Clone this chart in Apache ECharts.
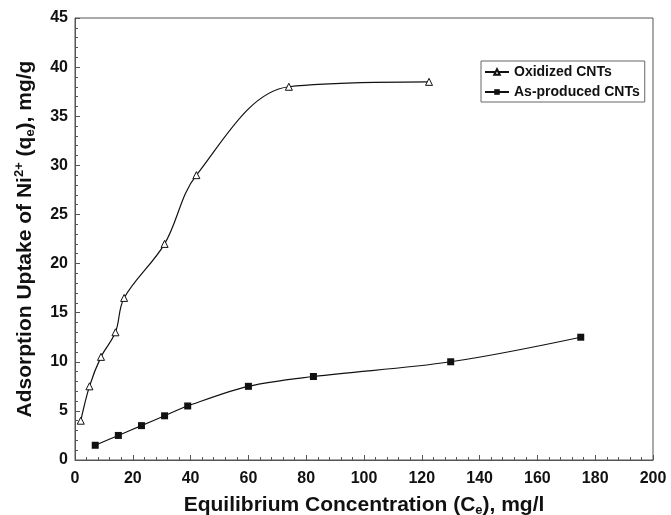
<!DOCTYPE html>
<html>
<head>
<meta charset="utf-8">
<script src="https://cdn.jsdelivr.net/npm/echarts@6/dist/echarts.min.js"></script>
<style>
    html, body { margin: 0; padding: 0; background: #fff; }
    #chart { width: 671px; height: 515px; }
</style>
</head>
<body>
<div id="chart"></div>
<script>
// Oxidized CNTs (hollow triangles)
let oxidizedX = [2, 5, 9, 14, 17, 31, 42, 74, 122.5];
let oxidizedY = [4, 7.5, 10.5, 13, 16.5, 22, 29, 38, 38.5];

// As-produced CNTs (filled squares)
let producedX = [7, 15, 23, 31, 39, 60, 82.5, 130, 175];
let producedY = [1.5, 2.5, 3.5, 4.5, 5.5, 7.5, 8.5, 10, 12.5];

let font = '"Liberation Sans", Arial, sans-serif';
let axisColor = '#555';
let ink = '#111';

let pairs = (xs, ys) => xs.map((x, i) => [x, ys[i]]);

// title text styles, with sub/superscripts
let titleRich = {
    b: { fontFamily: font, fontWeight: 'bold', fontSize: 21, color: ink, lineHeight: 24 },
    sup: { fontFamily: font, fontWeight: 'bold', fontSize: 13, color: ink, lineHeight: 24, verticalAlign: 'top', padding: [0, 0, 7, 0] },
    sub: { fontFamily: font, fontWeight: 'bold', fontSize: 13, color: ink, lineHeight: 24, verticalAlign: 'bottom', padding: [7, 0, 0, 0] }
};

let chart = echarts.init(document.getElementById('chart'));

chart.setOption({
    animation: false,
    backgroundColor: '#fff',
    grid: {
        left: 75,
        right: 18,
        top: 18,
        bottom: 55,
        outerBoundsMode: 'none',
        show: true,
        borderColor: axisColor,
        borderWidth: 1
    },
    legend: {
        left: 481,
        top: 61,
        orient: 'vertical',
        itemWidth: 24,
        itemHeight: 7,
        itemGap: 6,
        padding: [4, 5, 3, 3],
        borderColor: '#666',
        borderWidth: 1,
        textStyle: {
            fontFamily: font,
            fontWeight: 'bold',
            fontSize: 14,
            color: ink
        },
        data: ['Oxidized CNTs', 'As-produced CNTs']
    },
    xAxis: {
        type: 'value',
        min: 0,
        max: 200,
        interval: 20,
        name: '{b|Equilibrium Concentration (C}{sub|e}{b|), mg/l}',
        nameLocation: 'middle',
        nameGap: 33,
        nameTextStyle: { rich: titleRich },
        axisLine: { lineStyle: { color: axisColor } },
        axisTick: { inside: true, length: 5, lineStyle: { color: axisColor } },
        minorTick: { show: true, splitNumber: 5, length: 3, lineStyle: { color: axisColor } },
        splitLine: { show: false },
        axisLabel: {
            margin: 11,
            fontFamily: font,
            fontWeight: 'bold',
            fontSize: 16,
            color: ink
        }
    },
    yAxis: {
        type: 'value',
        min: 0,
        max: 45,
        interval: 5,
        name: '{b|Adsorption Uptake of Ni}{sup|2+}{b| (q}{sub|e}{b|), mg/g}',
        nameLocation: 'middle',
        nameGap: 38,
        nameRotate: 90,
        nameTextStyle: { rich: titleRich },
        axisLine: { show: true, lineStyle: { color: axisColor } },
        axisTick: { show: true, inside: true, length: 5, lineStyle: { color: axisColor } },
        minorTick: { show: true, splitNumber: 5, length: 3, lineStyle: { color: axisColor } },
        splitLine: { show: false },
        axisLabel: {
            margin: 7,
            fontFamily: font,
            fontWeight: 'bold',
            fontSize: 16,
            color: ink
        }
    },
    series: [
        {
            name: 'Oxidized CNTs',
            type: 'line',
            smooth: 0.35,
            data: pairs(oxidizedX, oxidizedY),
            symbol: 'triangle',
            symbolSize: 7,
            lineStyle: { color: ink, width: 1.2 },
            itemStyle: { color: '#fff', borderColor: ink, borderWidth: 1 }
        },
        {
            name: 'As-produced CNTs',
            type: 'line',
            smooth: 0.35,
            data: pairs(producedX, producedY),
            symbol: 'rect',
            symbolSize: 7,
            lineStyle: { color: ink, width: 1.2 },
            itemStyle: { color: ink, borderColor: ink, borderWidth: 0 }
        }
    ]
});
</script>
</body>
</html>
